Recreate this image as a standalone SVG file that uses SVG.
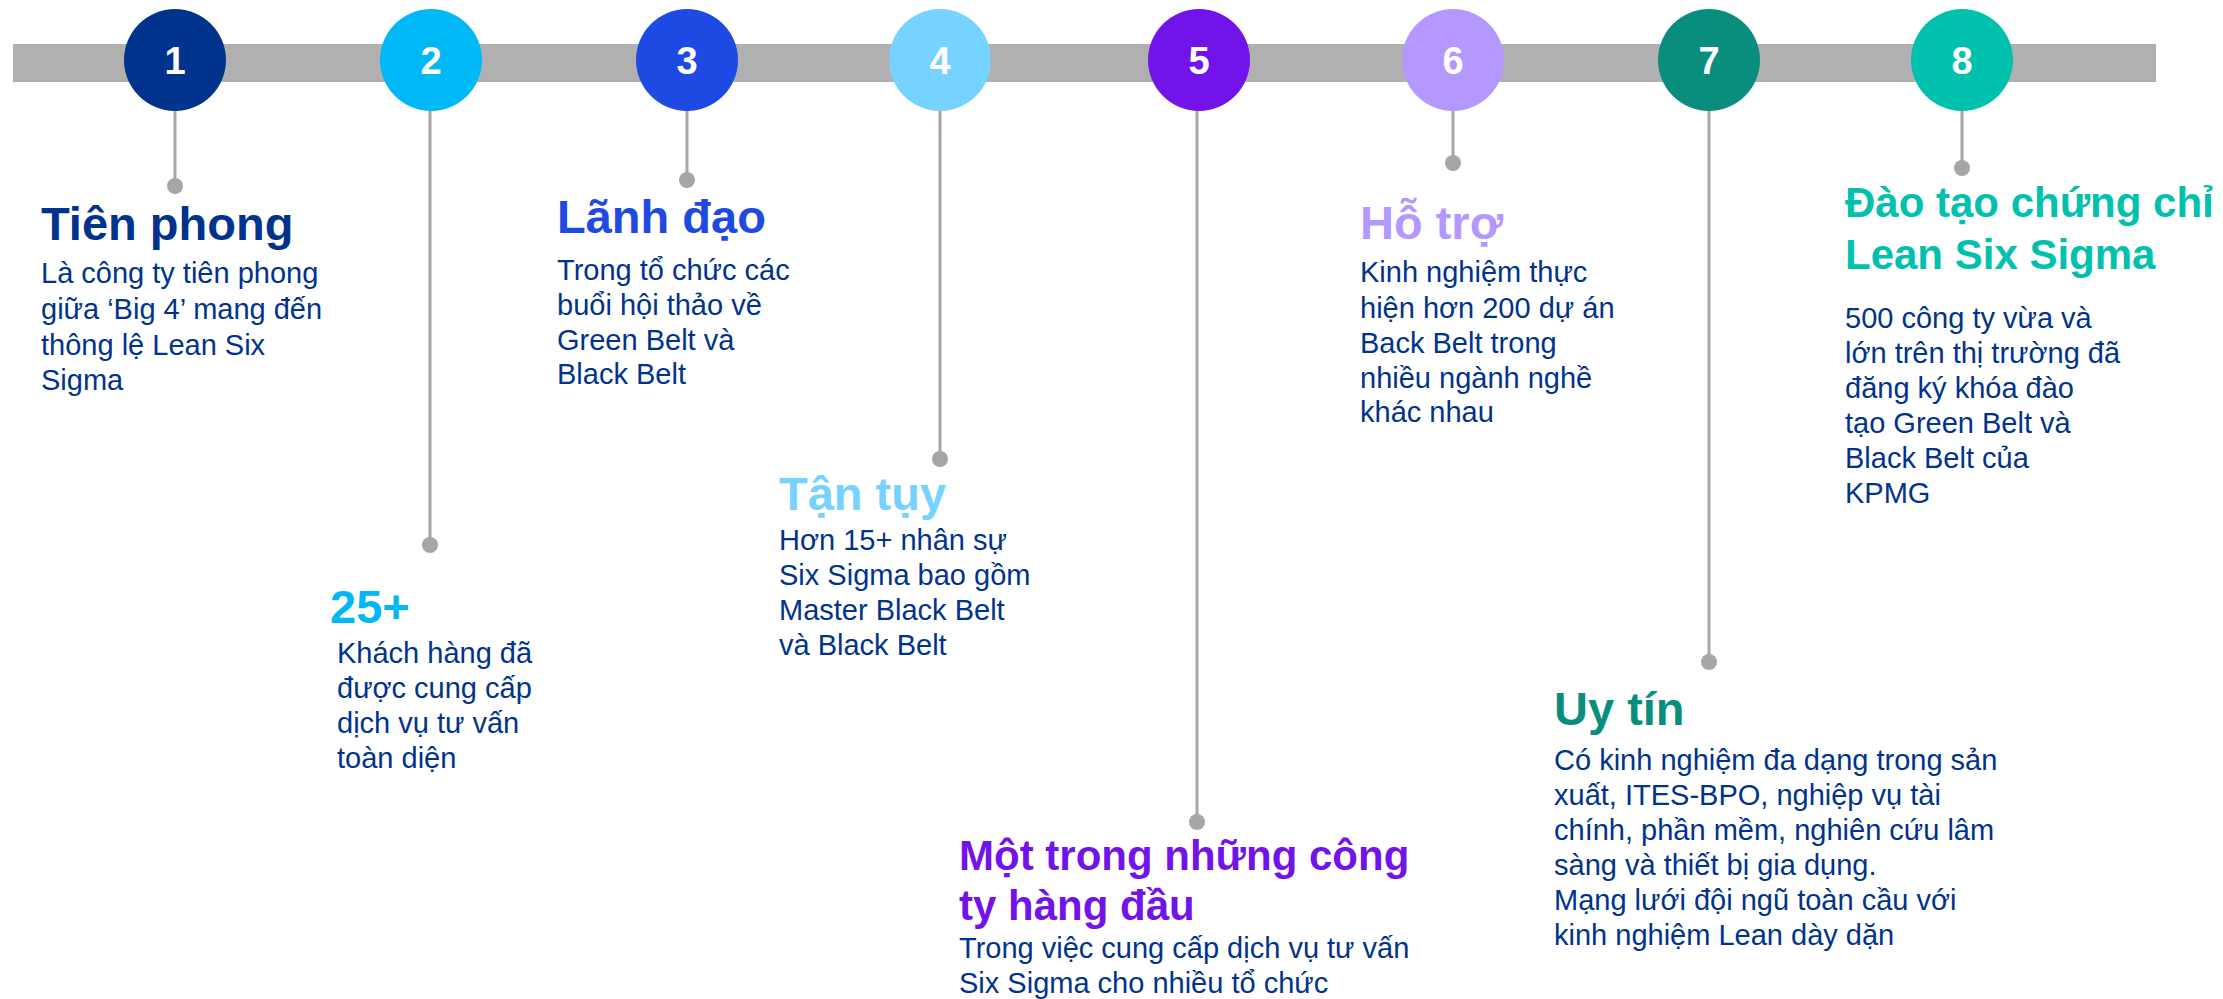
<svg xmlns="http://www.w3.org/2000/svg" width="2223" height="999" viewBox="0 0 2223 999">
<style>
text{font-family:"Liberation Sans",Arial,sans-serif}
.num{font-size:38px;font-weight:bold;fill:#fff;text-anchor:middle}
.t{font-size:47px;font-weight:bold}
.t2{font-size:42px;font-weight:bold}
.b{font-size:29px;fill:#00338D}
.ln{stroke:#A6A6A6;stroke-width:3;fill:none}
.dot{fill:#A6A6A6}
</style>
<rect width="2223" height="999" fill="#fff"/>
<rect id="bar" x="13" y="44" width="2143" height="38" fill="#B0B0B0"/>
<g id="connectors">
<line class="ln" x1="175" y1="111" x2="175" y2="186"/><circle class="dot" cx="175" cy="186" r="8"/>
<line class="ln" x1="430" y1="111" x2="430" y2="545"/><circle class="dot" cx="430" cy="545" r="8"/>
<line class="ln" x1="687" y1="111" x2="687" y2="180"/><circle class="dot" cx="687" cy="180" r="8"/>
<line class="ln" x1="940" y1="111" x2="940" y2="459"/><circle class="dot" cx="940" cy="459" r="8"/>
<line class="ln" x1="1197" y1="111" x2="1197" y2="822"/><circle class="dot" cx="1197" cy="822" r="8"/>
<line class="ln" x1="1453" y1="111" x2="1453" y2="163"/><circle class="dot" cx="1453" cy="163" r="8"/>
<line class="ln" x1="1709" y1="111" x2="1709" y2="662"/><circle class="dot" cx="1709" cy="662" r="8"/>
<line class="ln" x1="1962" y1="111" x2="1962" y2="168"/><circle class="dot" cx="1962" cy="168" r="8"/>
</g>
<g id="node1">
<circle cx="175" cy="60" r="51" fill="#00338D"/><text class="num" x="175" y="74">1</text>
<text class="t" x="41" y="240" fill="#00338D">Tiên phong</text>
<text class="b" x="41" y="283">Là công ty tiên phong</text>
<text class="b" x="41" y="319">giữa ‘Big 4’ mang đến</text>
<text class="b" x="41" y="355">thông lệ Lean Six</text>
<text class="b" x="41" y="390">Sigma</text>
</g>
<g id="node2">
<circle cx="431" cy="60" r="51" fill="#00B8F5"/><text class="num" x="431" y="74">2</text>
<text class="t" x="330" y="623" fill="#00B8F5">25+</text>
<text class="b" x="337" y="663">Khách hàng đã</text>
<text class="b" x="337" y="698">được cung cấp</text>
<text class="b" x="337" y="733">dịch vụ tư vấn</text>
<text class="b" x="337" y="768">toàn diện</text>
</g>
<g id="node3">
<circle cx="687" cy="60" r="51" fill="#1E49E2"/><text class="num" x="687" y="74">3</text>
<text class="t" x="557" y="233" fill="#1E49E2">Lãnh đạo</text>
<text class="b" x="557" y="280">Trong tổ chức các</text>
<text class="b" x="557" y="315">buổi hội thảo về</text>
<text class="b" x="557" y="350">Green Belt và</text>
<text class="b" x="557" y="384">Black Belt</text>
</g>
<g id="node4">
<circle cx="940" cy="60" r="51" fill="#76D2FF"/><text class="num" x="940" y="74">4</text>
<text class="t" x="779" y="510" fill="#76D2FF">Tận tụy</text>
<text class="b" x="779" y="550">Hơn 15+ nhân sự</text>
<text class="b" x="779" y="585">Six Sigma bao gồm</text>
<text class="b" x="779" y="620">Master Black Belt</text>
<text class="b" x="779" y="655">và Black Belt</text>
</g>
<g id="node5">
<circle cx="1199" cy="60" r="51" fill="#7213EA"/><text class="num" x="1199" y="74">5</text>
<text class="t2" x="959" y="870" fill="#7213EA">Một trong những công</text>
<text class="t2" x="959" y="920" fill="#7213EA">ty hàng đầu</text>
<text class="b" x="959" y="958">Trong việc cung cấp dịch vụ tư vấn</text>
<text class="b" x="959" y="993">Six Sigma cho nhiều tổ chức</text>
</g>
<g id="node6">
<circle cx="1453" cy="60" r="51" fill="#B497FF"/><text class="num" x="1453" y="74">6</text>
<text class="t" x="1360" y="239" fill="#B497FF">Hỗ trợ</text>
<text class="b" x="1360" y="282">Kinh nghiệm thực</text>
<text class="b" x="1360" y="318">hiện hơn 200 dự án</text>
<text class="b" x="1360" y="353">Back Belt trong</text>
<text class="b" x="1360" y="388">nhiều ngành nghề</text>
<text class="b" x="1360" y="422">khác nhau</text>
</g>
<g id="node7">
<circle cx="1709" cy="60" r="51" fill="#098E7E"/><text class="num" x="1709" y="74">7</text>
<text class="t" x="1554" y="725" fill="#098E7E">Uy tín</text>
<text class="b" x="1554" y="770">Có kinh nghiệm đa dạng trong sản</text>
<text class="b" x="1554" y="805">xuất, ITES-BPO, nghiệp vụ tài</text>
<text class="b" x="1554" y="840">chính, phần mềm, nghiên cứu lâm</text>
<text class="b" x="1554" y="875">sàng và thiết bị gia dụng.</text>
<text class="b" x="1554" y="910">Mạng lưới đội ngũ toàn cầu với</text>
<text class="b" x="1554" y="945">kinh nghiệm Lean dày dặn</text>
</g>
<g id="node8">
<circle cx="1962" cy="60" r="51" fill="#00C0AE"/><text class="num" x="1962" y="74">8</text>
<text class="t2" x="1845" y="217" fill="#00C0AE">Đào tạo chứng chỉ</text>
<text class="t2" x="1845" y="269" fill="#00C0AE">Lean Six Sigma</text>
<text class="b" x="1845" y="328">500 công ty vừa và</text>
<text class="b" x="1845" y="363">lớn trên thị trường đã</text>
<text class="b" x="1845" y="398">đăng ký khóa đào</text>
<text class="b" x="1845" y="433">tạo Green Belt và</text>
<text class="b" x="1845" y="468">Black Belt của</text>
<text class="b" x="1845" y="503">KPMG</text>
</g>
</svg>
